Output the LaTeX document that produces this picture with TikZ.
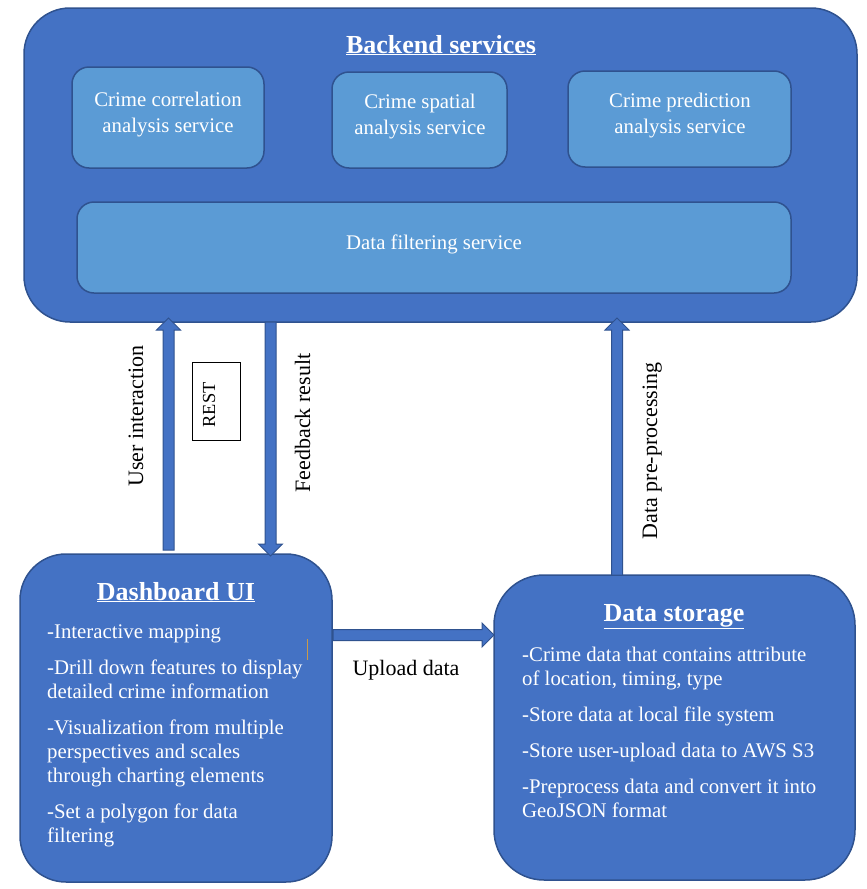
\documentclass[tikz,border=0pt]{standalone}
\usepackage{fontspec}
\setmainfont{Liberation Serif}
\usetikzlibrary{calc}
\definecolor{bfill}{HTML}{4472C4}
\definecolor{lfill}{HTML}{5B9BD5}
\definecolor{bline}{HTML}{2F528F}
\definecolor{artline}{HTML}{C99A4A}
\tikzset{
  bigbox/.style={draw=bline, fill=bfill, line width=1.5pt, rounded corners=46pt},
  subbox/.style={draw=bline, fill=lfill, line width=1.5pt, rounded corners=17pt},
  barrow/.style={draw=bline, fill=bfill, line width=1pt},
  wtext/.style={text=white, inner sep=0pt, font=\fontsize{20.8}{24}\selectfont},
  wtitle/.style={text=white, inner sep=0pt, font=\fontsize{26}{30}\selectfont\bfseries, anchor=base},
  ltext/.style={text=black, inner sep=0pt, font=\fontsize{22}{26}\selectfont, anchor=base},
  item/.style={wtext, anchor=base west},
  ctext/.style={wtext, anchor=base},
}
\newcommand\blockarrow[2]{%
  \draw[barrow] let \p1=($(#2)-(#1)$), \n1={veclen(\x1,\y1)}, \n2={atan2(\y1,\x1)} in
    [shift={(#1)}, rotate=\n2]
    (0pt,5.5pt) -- ({\n1*1pt-12pt},5.5pt) -- ({\n1*1pt-12pt},12pt) -- ({\n1*1pt},0pt)
    -- ({\n1*1pt-12pt},-12pt) -- ({\n1*1pt-12pt},-5.5pt) -- (0pt,-5.5pt) -- cycle;}
\begin{document}
\begin{tikzpicture}[x=1pt,y=-1pt]
\useasboundingbox (0,0) rectangle (867,889);

% Backend
\draw[bigbox] (24,8) rectangle (857,322);
\node[wtitle] (btitle) at (441,53) {\underline{Backend services}};
\draw[subbox] (72,67) rectangle (264,168);
\draw[subbox] (332,72) rectangle (507,168);
\draw[subbox] (568,71) rectangle (791,167);
\draw[subbox] (77,202) rectangle (791,293);
\node[ctext] (c1a) at (168,106) {Crime correlation};
\node[ctext] (c1b) at (168,132) {analysis service};
\node[ctext] (c2a) at (420,108) {Crime spatial};
\node[ctext] (c2b) at (420,134) {analysis service};
\node[ctext] (c3a) at (680,107) {Crime prediction};
\node[ctext] (c3b) at (680,133) {analysis service};
\node[ctext] (df) at (434,249) {Data filtering service};

% Dashboard
\draw[bigbox] (20,554) rectangle (332,882);
\node[wtitle] (dtitle) at (176,600) {\underline{Dashboard UI}};
\node[item] (d1) at (47,638) {-Interactive mapping};
\node[item] (d2) at (47,674) {-Drill down features to display};
\node[item] (d3) at (47,698) {detailed crime information};
\node[item] (d4) at (47,734) {-Visualization from multiple};
\node[item] (d5) at (47,758) {perspectives and scales};
\node[item] (d6) at (47,782) {through charting elements};
\node[item] (d7) at (47,818) {-Set a polygon for data};
\node[item] (d8) at (47,842) {filtering};
\draw[artline, line width=0.8pt] (307,639) -- (307,660);

% Data storage
\draw[bigbox, rounded corners=50pt] (494,575) rectangle (855,880);
\node[wtitle] (stitle) at (674,621) {\underline{Data storage}};
\node[item] (s1) at (522,661) {-Crime data that contains attribute};
\node[item] (s2) at (522,685) {of location, timing, type};
\node[item] (s3) at (522,721) {-Store data at local file system};
\node[item] (s4) at (522,757) {-Store user-upload data to AWS S3};
\node[item] (s5) at (522,793) {-Preprocess data and convert it into};
\node[item] (s6) at (522,817) {GeoJSON format};

% Connectors
\coordinate (uiS) at (168.5,550); \coordinate (uiE) at (168.5,318);
\coordinate (fbS) at (270.5,322); \coordinate (fbE) at (270.5,556);
\coordinate (ppS) at (617,575);   \coordinate (ppE) at (617,318);
\coordinate (upS) at (333,635);   \coordinate (upE) at (494,635);
\blockarrow{uiS}{uiE}
\blockarrow{fbS}{fbE}
\blockarrow{ppS}{ppE}
\blockarrow{upS}{upE}

% Labels
\node[ltext, rotate=90] (lui) at (143,416) {User interaction};
\node[ltext, rotate=90] (lfb) at (310,423) {Feedback result};
\node[ltext, rotate=90] (lpp) at (657,451) {Data pre-processing};
\node[ltext] (lup) at (406,675) {Upload data};
\draw[black, line width=1pt] (192,362) rectangle (240,440);
\node[text=black, inner sep=0pt, font=\fontsize{18.4}{22}\selectfont, anchor=base, rotate=90] (rest) at (215,405) {REST};
\end{tikzpicture}
\end{document}
